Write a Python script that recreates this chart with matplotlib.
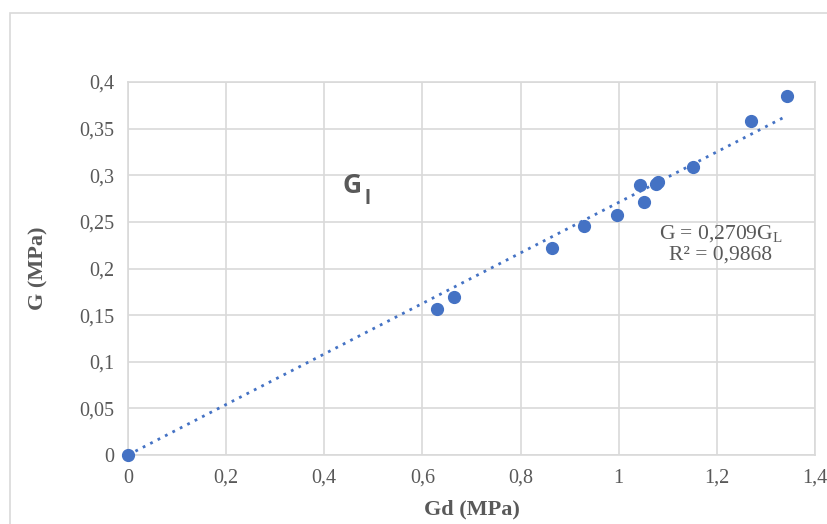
import matplotlib
matplotlib.use("Agg")
import matplotlib.pyplot as plt
import numpy as np

gd = [0.0, 0.630, 0.665, 0.865, 0.930, 0.996, 1.043, 1.052, 1.076, 1.080, 1.152, 1.269, 1.343]
g = [0.0, 0.1566, 0.169, 0.2216, 0.2456, 0.257, 0.290, 0.2717, 0.291, 0.293, 0.309, 0.3585, 0.3846]
slope = 0.2709
r2 = 0.9868
xticks = [0, 0.2, 0.4, 0.6, 0.8, 1.0, 1.2, 1.4]
yticks = [0, 0.05, 0.1, 0.15, 0.2, 0.25, 0.3, 0.35, 0.4]

def fmt(v):
    s = ("%g" % v).replace(".", ",")
    return s

W, H = 828, 524
fig = plt.figure(figsize=(W / 100, H / 100), dpi=100)
ax = fig.add_axes([128 / W, 1 - 455 / H, (815 - 128) / W, (455 - 82) / H])

grid_c = "#d9d9d9"
text_c = "#595959"
blue = "#4472C4"
serif = ["Liberation Serif", "DejaVu Serif"]

ax.set_xlim(0, 1.4)
ax.set_ylim(0, 0.4)
ax.set_xticks(xticks)
ax.set_yticks(yticks)
ax.set_xticklabels([fmt(v) for v in xticks], fontfamily=serif, fontsize=14.5, color=text_c)
ax.set_yticklabels([fmt(v) for v in yticks], fontfamily=serif, fontsize=14.5, color=text_c)
ax.tick_params(length=0, pad=10)
ax.grid(True, color=grid_c, linewidth=1.2)
ax.set_axisbelow(True)
for sp in ax.spines.values():
    sp.set_color(grid_c)
    sp.set_linewidth(1.2)

xl = np.array([0, max(gd)])
ax.plot(xl, slope * xl, linestyle=(0, (1, 2)), color=blue, linewidth=2, zorder=2)
ax.plot(gd, g, "o", color=blue, markersize=8.5, zorder=3, clip_on=False)

ax.set_xlabel("Gd (MPa)", fontfamily=serif, fontsize=16, fontweight="bold", color=text_c, labelpad=8)
ax.set_ylabel("G (MPa)", fontfamily=serif, fontsize=16, fontweight="bold", color=text_c, labelpad=22)

ax.text(0.437, 0.281, "G", fontfamily=["Open Sans", "DejaVu Sans"], fontweight="bold", fontsize=19,
        color=text_c, ha="left", va="baseline")
ax.text(0.481, 0.269, "l", fontfamily=["Open Sans", "DejaVu Sans"], fontweight="bold", fontsize=14,
        color=text_c, ha="left", va="baseline")

eq = ("G = " + ("%.4f" % slope).replace(".", ",") + r"G$_\mathregular{L}$" + "\n" +
      "R² = " + ("%.4f" % r2).replace(".", ","))
fig.text(721 / W, 1 - 244 / H, eq, fontfamily=serif, fontsize=15.5, color=text_c,
         ha="center", va="center", linespacing=1.0)

# outer chart border
fig.add_artist(plt.Rectangle((9.5 / W, -0.1), 1.2, 1 - 13.5 / H + 0.1, transform=fig.transFigure,
                             fill=False, edgecolor=grid_c, linewidth=1.2))

fig.savefig("out.png", dpi=100, facecolor="white")
